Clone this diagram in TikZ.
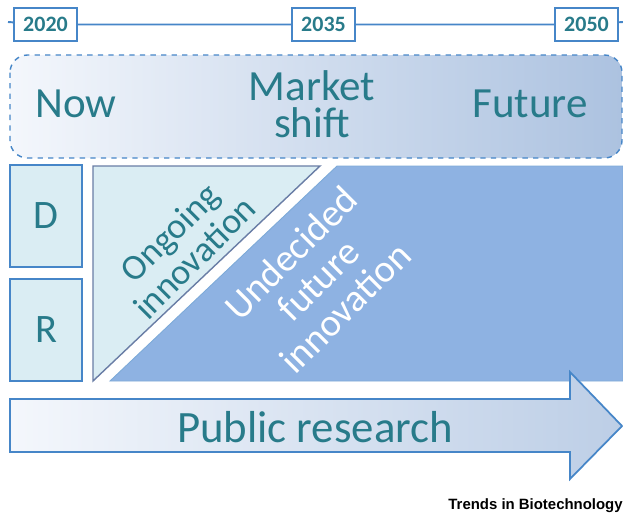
\documentclass[tikz,border=0pt]{standalone}
\usepackage{fontspec}
\setmainfont{Carlito}
\newfontfamily\journalfont{Liberation Sans}
\usetikzlibrary{positioning}
\definecolor{textColor}{RGB}{40, 123, 138}
\definecolor{lineColor}{RGB}{70, 134, 200}
\definecolor{lightColor}{RGB}{218, 237, 243}
\definecolor{futureColor}{RGB}{142, 178, 226}
\definecolor{fadeColor}{RGB}{244, 247, 252}
\definecolor{deepColor}{RGB}{172, 194, 224}
\definecolor{edgeColor}{RGB}{105, 125, 165}

\begin{document}
\begin{tikzpicture}[
    x=0.02cm, y=-0.02cm,
    year/.style={rectangle, draw=lineColor, line width=1.1pt, fill=white, minimum width=1.26cm, minimum height=0.66cm, inner sep=0pt, font=\fontsize{12.5}{14}\selectfont\bfseries, text=textColor},
    phase/.style={font=\fontsize{24.5}{21}\selectfont, text=textColor, align=center},
    stage/.style={rectangle, draw=lineColor, line width=0.9pt, fill=lightColor, minimum width=1.44cm, minimum height=2.04cm, inner sep=0pt, font=\fontsize{23}{24}\selectfont, text=textColor},
    slant/.style={font=\fontsize{20.5}{20}\selectfont, align=center, rotate=45}
]
    \useasboundingbox (0,0) rectangle (623,518);

    % Timeline
    \coordinate (tlstart) at (8,22);
    \coordinate (tlend) at (623,22);
    \node[year] (y2020) at (45.5,24.5) {2020};
    \node[year] (y2035) at (323.5,24.5) {2035};
    \node[year] (y2050) at (586.5,24.5) {2050};
    \draw[lineColor, line width=1.1pt] (tlstart) -- (y2020) -- (y2035) -- (y2050) -- (tlend);

    % Market phases
    \draw[lineColor, dashed, line width=0.8pt, rounded corners=10pt, left color=fadeColor, right color=deepColor] (10,55) rectangle (622,158);
    \node[phase] (now) at (76,104) {Now};
    \node[phase] (shift) at (312,104) {Market\\shift};
    \node[phase] (future) at (530,104) {Future};

    % R&D
    \node[stage] (dev) at (46,216) {D};
    \node[stage] (res) at (46,330) {R};

    % Innovation
    \draw[edgeColor, line width=0.8pt, fill=lightColor] (93,166) -- (320,166) -- (93,381) -- cycle;
    \draw[lineColor!70, line width=0.5pt, fill=futureColor] (337,166) -- (623,166) -- (623,381) -- (110,381) -- cycle;
    \node[slant, text=textColor] (ongoing) at (182,245) {Ongoing\\innovation};
    \node[slant, text=white, font=\fontsize{22}{22}\selectfont] (undecided) at (318,280) {Undecided\\future\\innovation};

    % Public research
    \draw[lineColor, line width=1pt, left color=fadeColor, right color=deepColor!80] (10,399) -- (570,399) -- (570,372) -- (622,426) -- (570,479) -- (570,452) -- (10,452) -- cycle;
    \node[font=\fontsize{25.5}{26}\selectfont, text=textColor] (public) at (315,427) {Public research};

    % Source
    \node[font=\journalfont\fontsize{8.5}{9}\selectfont\bfseries, anchor=east, inner sep=0pt] (journal) at (623,506) {Trends in Biotechnology};
\end{tikzpicture}
\end{document}
